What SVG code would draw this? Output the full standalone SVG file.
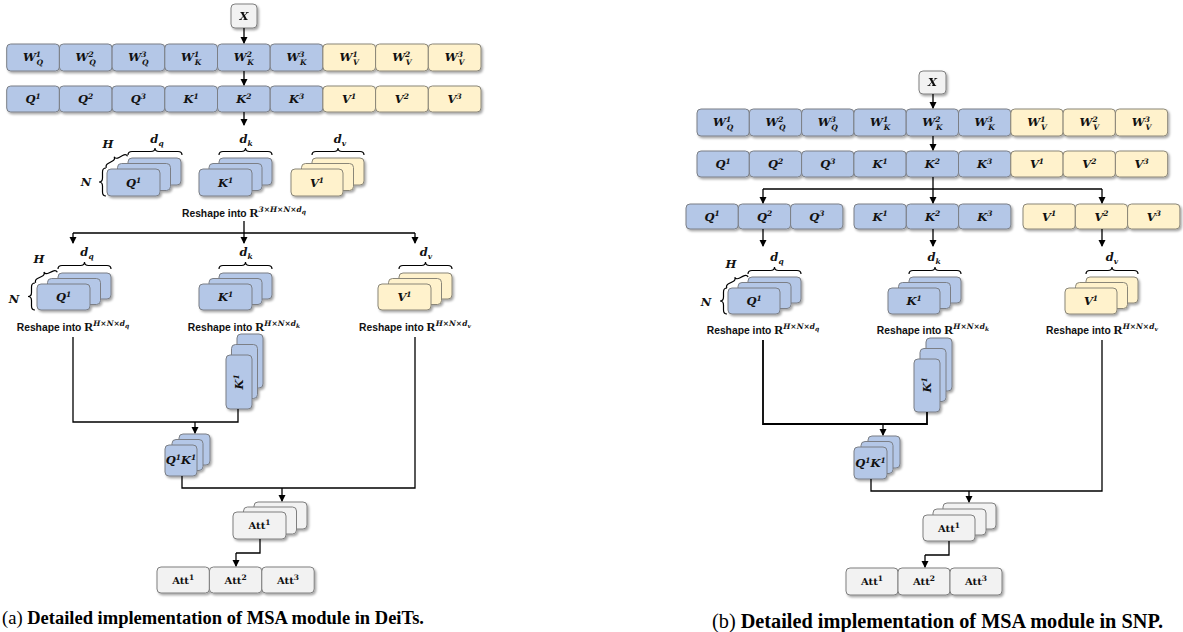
<svg xmlns="http://www.w3.org/2000/svg" width="1183" height="632" viewBox="0 0 1183 632">
<style>
.b{fill:#b4c7e7;stroke:#7b7f86;stroke-width:1}
.y{fill:#fff2cc;stroke:#8a8678;stroke-width:1}
.g{fill:#f2f2f2;stroke:#7f7f7f;stroke-width:1}
.m{font-family:"DejaVu Serif","Liberation Serif",serif;font-weight:bold;font-style:italic;font-size:11.5px;text-anchor:middle;fill:#111}
.a{font-family:"DejaVu Serif","Liberation Serif",serif;font-weight:bold;font-size:10px;text-anchor:middle;fill:#111}
.s{font-size:7.5px}
.r{font-family:"Liberation Sans",Arial,sans-serif;font-weight:bold;font-size:10.3px;text-anchor:middle;fill:#111}
.rr{font-family:"Liberation Serif",serif;font-weight:bold;font-size:12.5px}
.rs{font-family:"DejaVu Serif",serif;font-style:italic;font-weight:bold;font-size:7.5px}
.rs2{font-family:"DejaVu Serif",serif;font-style:italic;font-weight:bold;font-size:6px}
.ln{fill:none;stroke:#000;stroke-width:1.3}
.ar{fill:none;stroke:#000;stroke-width:1.3;marker-end:url(#ah)}
.br{fill:none;stroke:#000;stroke-width:1.2}
.cap{font-family:"Liberation Serif","Times New Roman",serif;fill:#000}
</style>
<defs>
<marker id="ah" markerUnits="userSpaceOnUse" markerWidth="8" markerHeight="8" refX="6" refY="3.5" orient="auto">
<path d="M0,0 L7,3.5 L0,7 z" fill="#000"/>
</marker>
<filter id="sh" x="-20%" y="-20%" width="150%" height="160%">
<feDropShadow dx="1.5" dy="1.8" stdDeviation="1" flood-color="#000" flood-opacity="0.35"/>
</filter>
</defs>

<!-- ================= (a) LEFT ================= -->
<g id="a-x" filter="url(#sh)"><rect class="g" x="231" y="4" width="26" height="24" rx="4"/><text class="m" x="244" y="20">X</text></g>

<g id="a-wrow" filter="url(#sh)">
<rect class="b" x="6.7" y="44" width="52.7" height="27" rx="4"/>
<rect class="b" x="59.4" y="44" width="52.7" height="27" rx="4"/>
<rect class="b" x="112.1" y="44" width="52.7" height="27" rx="4"/>
<rect class="b" x="164.8" y="44" width="52.7" height="27" rx="4"/>
<rect class="b" x="217.5" y="44" width="52.7" height="27" rx="4"/>
<rect class="b" x="270.2" y="44" width="52.7" height="27" rx="4"/>
<rect class="y" x="322.9" y="44" width="52.7" height="27" rx="4"/>
<rect class="y" x="375.6" y="44" width="52.7" height="27" rx="4"/>
<rect class="y" x="428.3" y="44" width="52.7" height="27" rx="4"/>
</g>
<g id="a-wlabels">
<text class="m" x="33" y="61">W<tspan class="s" dy="-4.5">1</tspan><tspan class="s" dx="-4.5" dy="8">Q</tspan></text>
<text class="m" x="85.7" y="61">W<tspan class="s" dy="-4.5">2</tspan><tspan class="s" dx="-4.5" dy="8">Q</tspan></text>
<text class="m" x="138.4" y="61">W<tspan class="s" dy="-4.5">3</tspan><tspan class="s" dx="-4.5" dy="8">Q</tspan></text>
<text class="m" x="191.1" y="61">W<tspan class="s" dy="-4.5">1</tspan><tspan class="s" dx="-4.5" dy="8">K</tspan></text>
<text class="m" x="243.8" y="61">W<tspan class="s" dy="-4.5">2</tspan><tspan class="s" dx="-4.5" dy="8">K</tspan></text>
<text class="m" x="296.5" y="61">W<tspan class="s" dy="-4.5">3</tspan><tspan class="s" dx="-4.5" dy="8">K</tspan></text>
<text class="m" x="349.2" y="61">W<tspan class="s" dy="-4.5">1</tspan><tspan class="s" dx="-4.5" dy="8">V</tspan></text>
<text class="m" x="401.9" y="61">W<tspan class="s" dy="-4.5">2</tspan><tspan class="s" dx="-4.5" dy="8">V</tspan></text>
<text class="m" x="454.6" y="61">W<tspan class="s" dy="-4.5">3</tspan><tspan class="s" dx="-4.5" dy="8">V</tspan></text>
</g>

<g id="a-qrow" filter="url(#sh)">
<rect class="b" x="6.7" y="86" width="52.7" height="26" rx="4"/>
<rect class="b" x="59.4" y="86" width="52.7" height="26" rx="4"/>
<rect class="b" x="112.1" y="86" width="52.7" height="26" rx="4"/>
<rect class="b" x="164.8" y="86" width="52.7" height="26" rx="4"/>
<rect class="b" x="217.5" y="86" width="52.7" height="26" rx="4"/>
<rect class="b" x="270.2" y="86" width="52.7" height="26" rx="4"/>
<rect class="y" x="322.9" y="86" width="52.7" height="26" rx="4"/>
<rect class="y" x="375.6" y="86" width="52.7" height="26" rx="4"/>
<rect class="y" x="428.3" y="86" width="52.7" height="26" rx="4"/>
</g>
<g id="a-qlabels">
<text class="m" x="33" y="103">Q<tspan class="s" dy="-4.5">1</tspan></text>
<text class="m" x="85.7" y="103">Q<tspan class="s" dy="-4.5">2</tspan></text>
<text class="m" x="138.4" y="103">Q<tspan class="s" dy="-4.5">3</tspan></text>
<text class="m" x="191.1" y="103">K<tspan class="s" dy="-4.5">1</tspan></text>
<text class="m" x="243.8" y="103">K<tspan class="s" dy="-4.5">2</tspan></text>
<text class="m" x="296.5" y="103">K<tspan class="s" dy="-4.5">3</tspan></text>
<text class="m" x="349.2" y="103">V<tspan class="s" dy="-4.5">1</tspan></text>
<text class="m" x="401.9" y="103">V<tspan class="s" dy="-4.5">2</tspan></text>
<text class="m" x="454.6" y="103">V<tspan class="s" dy="-4.5">3</tspan></text>
</g>

<!-- level 1 stacks -->
<g id="a-q3d">
<g filter="url(#sh)">
<rect class="b" x="128" y="158" width="53" height="27" rx="4"/>
<rect class="b" x="117.5" y="163.5" width="53" height="27" rx="4"/>
<rect class="b" x="107" y="169" width="53" height="27" rx="4"/>
</g>
<text class="m" x="133.5" y="187">Q<tspan class="s" dy="-4.5">1</tspan></text>
<path class="br" d="M128,155 Q128,151.5 132,151.5 L151,151.5 Q155,151.5 155,148 Q155,151.5 159,151.5 L178,151.5 Q182,151.5 182,155"/>
<text class="m" x="157" y="143">d<tspan class="s" dy="2.5">q</tspan></text>
<path class="br" transform="translate(117,162) rotate(-28.6)" d="M-12,0 Q-12,-3 -8,-3 L-4,-3 Q0,-3 0,-6 Q0,-3 4,-3 L8,-3 Q12,-3 12,0"/>
<text class="m" x="108" y="148">H</text>
<path class="br" d="M106,168 Q102.5,168 102.5,172 L102.5,178 Q102.5,182 99,182 Q102.5,182 102.5,186 L102.5,192 Q102.5,196 106,196"/>
<text class="m" x="86" y="186">N</text>
</g>
<g id="a-k3d">
<g filter="url(#sh)">
<rect class="b" x="219" y="158" width="53" height="27" rx="4"/>
<rect class="b" x="209" y="163.5" width="53" height="27" rx="4"/>
<rect class="b" x="199" y="169" width="53" height="27" rx="4"/>
</g>
<text class="m" x="225.5" y="187">K<tspan class="s" dy="-4.5">1</tspan></text>
<path class="br" d="M219,155 Q219,151.5 223,151.5 L241.5,151.5 Q245.5,151.5 245.5,148 Q245.5,151.5 249.5,151.5 L268,151.5 Q272,151.5 272,155"/>
<text class="m" x="246" y="143">d<tspan class="s" dy="2.5">k</tspan></text>
</g>
<g id="a-v3d">
<g filter="url(#sh)">
<rect class="y" x="312" y="158" width="52" height="27" rx="4"/>
<rect class="y" x="301.5" y="163.5" width="52" height="27" rx="4"/>
<rect class="y" x="291" y="169" width="52" height="27" rx="4"/>
</g>
<text class="m" x="317" y="187">V<tspan class="s" dy="-4.5">1</tspan></text>
<path class="br" d="M312,155 Q312,151.5 316,151.5 L334,151.5 Q338,151.5 338,148 Q338,151.5 342,151.5 L360,151.5 Q364,151.5 364,155"/>
<text class="m" x="340" y="143">d<tspan class="s" dy="2.5">v</tspan></text>
</g>
<text id="a-reshape0" class="r" x="244" y="217">Reshape into <tspan class="rr">R</tspan><tspan class="rs" dy="-5">3×H×N×d</tspan><tspan class="rs2" dy="1.5">q</tspan></text>

<!-- level 2 stacks -->
<g id="a-q3d2">
<g filter="url(#sh)">
<rect class="b" x="58" y="273" width="53" height="26" rx="4"/>
<rect class="b" x="47.5" y="278.5" width="53" height="26" rx="4"/>
<rect class="b" x="37" y="284" width="53" height="26" rx="4"/>
</g>
<text class="m" x="63.5" y="301">Q<tspan class="s" dy="-4.5">1</tspan></text>
<path class="br" d="M58,269 Q58,265.5 62,265.5 L80.5,265.5 Q84.5,265.5 84.5,262 Q84.5,265.5 88.5,265.5 L107,265.5 Q111,265.5 111,269"/>
<text class="m" x="87" y="256">d<tspan class="s" dy="2.5">q</tspan></text>
<path class="br" transform="translate(46.5,277.5) rotate(-25.6)" d="M-12,0 Q-12,-3 -8,-3 L-4,-3 Q0,-3 0,-6 Q0,-3 4,-3 L8,-3 Q12,-3 12,0"/>
<text class="m" x="39" y="263">H</text>
<path class="br" d="M35,283 Q31.5,283 31.5,287 L31.5,292.5 Q31.5,296.5 28,296.5 Q31.5,296.5 31.5,300.5 L31.5,306 Q31.5,310 35,310"/>
<text class="m" x="14" y="303">N</text>
</g>
<g id="a-k3d2">
<g filter="url(#sh)">
<rect class="b" x="219" y="273" width="53" height="26" rx="4"/>
<rect class="b" x="209" y="278.5" width="53" height="26" rx="4"/>
<rect class="b" x="199" y="284" width="53" height="26" rx="4"/>
</g>
<text class="m" x="225.5" y="301">K<tspan class="s" dy="-4.5">1</tspan></text>
<path class="br" d="M219,269 Q219,265.5 223,265.5 L241.5,265.5 Q245.5,265.5 245.5,262 Q245.5,265.5 249.5,265.5 L268,265.5 Q272,265.5 272,269"/>
<text class="m" x="246" y="256">d<tspan class="s" dy="2.5">k</tspan></text>
</g>
<g id="a-v3d2">
<g filter="url(#sh)">
<rect class="y" x="399" y="273" width="53" height="26" rx="4"/>
<rect class="y" x="388.5" y="278.5" width="53" height="26" rx="4"/>
<rect class="y" x="378" y="284" width="53" height="26" rx="4"/>
</g>
<text class="m" x="404.5" y="301">V<tspan class="s" dy="-4.5">1</tspan></text>
<path class="br" d="M399,269 Q399,265.5 403,265.5 L421.5,265.5 Q425.5,265.5 425.5,262 Q425.5,265.5 429.5,265.5 L448,265.5 Q452,265.5 452,269"/>
<text class="m" x="426" y="256">d<tspan class="s" dy="2.5">v</tspan></text>
</g>
<text id="a-reshape-q" class="r" x="73" y="331">Reshape into <tspan class="rr">R</tspan><tspan class="rs" dy="-5">H×N×d</tspan><tspan class="rs2" dy="1.5">q</tspan></text>
<text id="a-reshape-k" class="r" x="244" y="331">Reshape into <tspan class="rr">R</tspan><tspan class="rs" dy="-5">H×N×d</tspan><tspan class="rs2" dy="1.5">k</tspan></text>
<text id="a-reshape-v" class="r" x="415" y="331">Reshape into <tspan class="rr">R</tspan><tspan class="rs" dy="-5">H×N×d</tspan><tspan class="rs2" dy="1.5">v</tspan></text>

<g id="a-kt">
<g filter="url(#sh)">
<rect class="b" x="237" y="334" width="26" height="54" rx="4"/>
<rect class="b" x="231.5" y="344.5" width="26" height="54" rx="4"/>
<rect class="b" x="226" y="355" width="26" height="54" rx="4"/>
</g>
<text class="m" transform="translate(243,382) rotate(-90)" x="0" y="0">K<tspan class="s" dy="-4.5">1</tspan></text>
</g>
<g id="a-qk">
<g filter="url(#sh)">
<rect class="b" x="179" y="434" width="31" height="31" rx="4"/>
<rect class="b" x="172" y="439.5" width="31" height="31" rx="4"/>
<rect class="b" x="165" y="445" width="32" height="31" rx="4"/>
</g>
<text class="m" x="181" y="464">Q<tspan class="s" dy="-4.5">1</tspan><tspan dy="4.5">K</tspan><tspan class="s" dy="-4.5">1</tspan></text>
</g>
<g id="a-att">
<g filter="url(#sh)">
<rect class="g" x="254" y="502" width="53" height="27" rx="4"/>
<rect class="g" x="243.5" y="507" width="53" height="27" rx="4"/>
<rect class="g" x="233" y="512" width="53" height="27" rx="4"/>
</g>
<text class="a" x="259.5" y="529">Att<tspan class="s" dy="-4">1</tspan></text>
</g>
<g id="a-attrow">
<g filter="url(#sh)">
<rect class="g" x="157" y="567" width="52.4" height="26" rx="4"/>
<rect class="g" x="209.4" y="567" width="52.4" height="26" rx="4"/>
<rect class="g" x="261.8" y="567" width="52.4" height="26" rx="4"/>
</g>
<text class="a" x="183.2" y="584">Att<tspan class="s" dy="-4">1</tspan></text>
<text class="a" x="235.6" y="584">Att<tspan class="s" dy="-4">2</tspan></text>
<text class="a" x="288" y="584">Att<tspan class="s" dy="-4">3</tspan></text>
</g>

<g id="a-connectors">
<path class="ar" d="M244,28 L244,43"/>
<path class="ar" d="M244,71 L244,85"/>
<path class="ar" d="M244,112 L244,125"/>
<path class="ln" d="M244,221 L244,233 M73,233 L415,233"/>
<path class="ar" d="M73,233 L73,243"/>
<path class="ar" d="M244,233 L244,243"/>
<path class="ar" d="M415,233 L415,243"/>
<path class="ln" d="M73,337 L73,422 L238,422 L238,409"/>
<path class="ar" d="M195,422 L195,433"/>
<path class="ln" d="M182,476 L182,488 L415,488 L415,337"/>
<path class="ar" d="M282,488 L282,501"/>
<path class="ln" d="M260,539 L260,553 L236,553"/>
<path class="ar" d="M236,553 L236,566"/>
</g>

<text id="a-caption" class="cap" x="2" y="624" font-size="18.5" textLength="422" lengthAdjust="spacingAndGlyphs">(a) <tspan font-weight="bold">Detailed implementation of MSA module in DeiTs.</tspan></text>

<!-- ================= (b) RIGHT ================= -->
<g id="b-x" filter="url(#sh)"><rect class="g" x="919" y="71" width="27" height="23" rx="4"/><text class="m" x="932.5" y="86">X</text></g>

<g id="b-wrow" filter="url(#sh)">
<rect class="b" x="697" y="109" width="52.3" height="27" rx="4"/>
<rect class="b" x="749.3" y="109" width="52.3" height="27" rx="4"/>
<rect class="b" x="801.6" y="109" width="52.3" height="27" rx="4"/>
<rect class="b" x="853.9" y="109" width="52.3" height="27" rx="4"/>
<rect class="b" x="906.2" y="109" width="52.3" height="27" rx="4"/>
<rect class="b" x="958.5" y="109" width="52.3" height="27" rx="4"/>
<rect class="y" x="1010.8" y="109" width="52.3" height="27" rx="4"/>
<rect class="y" x="1063.1" y="109" width="52.3" height="27" rx="4"/>
<rect class="y" x="1115.4" y="109" width="52.3" height="27" rx="4"/>
</g>
<g id="b-wlabels">
<text class="m" x="723.2" y="126">W<tspan class="s" dy="-4.5">1</tspan><tspan class="s" dx="-4.5" dy="8">Q</tspan></text>
<text class="m" x="775.5" y="126">W<tspan class="s" dy="-4.5">2</tspan><tspan class="s" dx="-4.5" dy="8">Q</tspan></text>
<text class="m" x="827.8" y="126">W<tspan class="s" dy="-4.5">3</tspan><tspan class="s" dx="-4.5" dy="8">Q</tspan></text>
<text class="m" x="880.1" y="126">W<tspan class="s" dy="-4.5">1</tspan><tspan class="s" dx="-4.5" dy="8">K</tspan></text>
<text class="m" x="932.4" y="126">W<tspan class="s" dy="-4.5">2</tspan><tspan class="s" dx="-4.5" dy="8">K</tspan></text>
<text class="m" x="984.7" y="126">W<tspan class="s" dy="-4.5">3</tspan><tspan class="s" dx="-4.5" dy="8">K</tspan></text>
<text class="m" x="1037" y="126">W<tspan class="s" dy="-4.5">1</tspan><tspan class="s" dx="-4.5" dy="8">V</tspan></text>
<text class="m" x="1089.3" y="126">W<tspan class="s" dy="-4.5">2</tspan><tspan class="s" dx="-4.5" dy="8">V</tspan></text>
<text class="m" x="1141.6" y="126">W<tspan class="s" dy="-4.5">3</tspan><tspan class="s" dx="-4.5" dy="8">V</tspan></text>
</g>

<g id="b-qrow" filter="url(#sh)">
<rect class="b" x="697" y="151" width="52.3" height="26" rx="4"/>
<rect class="b" x="749.3" y="151" width="52.3" height="26" rx="4"/>
<rect class="b" x="801.6" y="151" width="52.3" height="26" rx="4"/>
<rect class="b" x="853.9" y="151" width="52.3" height="26" rx="4"/>
<rect class="b" x="906.2" y="151" width="52.3" height="26" rx="4"/>
<rect class="b" x="958.5" y="151" width="52.3" height="26" rx="4"/>
<rect class="y" x="1010.8" y="151" width="52.3" height="26" rx="4"/>
<rect class="y" x="1063.1" y="151" width="52.3" height="26" rx="4"/>
<rect class="y" x="1115.4" y="151" width="52.3" height="26" rx="4"/>
</g>
<g id="b-qlabels">
<text class="m" x="723.2" y="168">Q<tspan class="s" dy="-4.5">1</tspan></text>
<text class="m" x="775.5" y="168">Q<tspan class="s" dy="-4.5">2</tspan></text>
<text class="m" x="827.8" y="168">Q<tspan class="s" dy="-4.5">3</tspan></text>
<text class="m" x="880.1" y="168">K<tspan class="s" dy="-4.5">1</tspan></text>
<text class="m" x="932.4" y="168">K<tspan class="s" dy="-4.5">2</tspan></text>
<text class="m" x="984.7" y="168">K<tspan class="s" dy="-4.5">3</tspan></text>
<text class="m" x="1037" y="168">V<tspan class="s" dy="-4.5">1</tspan></text>
<text class="m" x="1089.3" y="168">V<tspan class="s" dy="-4.5">2</tspan></text>
<text class="m" x="1141.6" y="168">V<tspan class="s" dy="-4.5">3</tspan></text>
</g>

<g id="b-qsplit">
<g filter="url(#sh)">
<rect class="b" x="686" y="204" width="52.3" height="25" rx="4"/>
<rect class="b" x="738.3" y="204" width="52.3" height="25" rx="4"/>
<rect class="b" x="790.6" y="204" width="52.3" height="25" rx="4"/>
</g>
<text class="m" x="712.2" y="220.5">Q<tspan class="s" dy="-4.5">1</tspan></text>
<text class="m" x="764.5" y="220.5">Q<tspan class="s" dy="-4.5">2</tspan></text>
<text class="m" x="816.8" y="220.5">Q<tspan class="s" dy="-4.5">3</tspan></text>
</g>
<g id="b-ksplit">
<g filter="url(#sh)">
<rect class="b" x="854" y="204" width="52.3" height="25" rx="4"/>
<rect class="b" x="906.3" y="204" width="52.3" height="25" rx="4"/>
<rect class="b" x="958.6" y="204" width="52.3" height="25" rx="4"/>
</g>
<text class="m" x="880.2" y="220.5">K<tspan class="s" dy="-4.5">1</tspan></text>
<text class="m" x="932.5" y="220.5">K<tspan class="s" dy="-4.5">2</tspan></text>
<text class="m" x="984.8" y="220.5">K<tspan class="s" dy="-4.5">3</tspan></text>
</g>
<g id="b-vsplit">
<g filter="url(#sh)">
<rect class="y" x="1023" y="204" width="52.3" height="25" rx="4"/>
<rect class="y" x="1075.3" y="204" width="52.3" height="25" rx="4"/>
<rect class="y" x="1127.6" y="204" width="52.3" height="25" rx="4"/>
</g>
<text class="m" x="1049.2" y="220.5">V<tspan class="s" dy="-4.5">1</tspan></text>
<text class="m" x="1101.5" y="220.5">V<tspan class="s" dy="-4.5">2</tspan></text>
<text class="m" x="1153.8" y="220.5">V<tspan class="s" dy="-4.5">3</tspan></text>
</g>

<g id="b-q3d">
<g filter="url(#sh)">
<rect class="b" x="748" y="277" width="53" height="26" rx="4"/>
<rect class="b" x="738" y="282.5" width="53" height="26" rx="4"/>
<rect class="b" x="728" y="288" width="52" height="26" rx="4"/>
</g>
<text class="m" x="754" y="305">Q<tspan class="s" dy="-4.5">1</tspan></text>
<path class="br" d="M748,274 Q748,270.5 752,270.5 L770.5,270.5 Q774.5,270.5 774.5,267 Q774.5,270.5 778.5,270.5 L797,270.5 Q801,270.5 801,274"/>
<text class="m" x="777" y="261">d<tspan class="s" dy="2.5">q</tspan></text>
<path class="br" transform="translate(737.5,282.5) rotate(-27.6)" d="M-12,0 Q-12,-3 -8,-3 L-4,-3 Q0,-3 0,-6 Q0,-3 4,-3 L8,-3 Q12,-3 12,0"/>
<text class="m" x="731" y="268">H</text>
<path class="br" d="M727,288 Q723.5,288 723.5,292 L723.5,297 Q723.5,301 720,301 Q723.5,301 723.5,305 L723.5,310 Q723.5,314 727,314"/>
<text class="m" x="706" y="306">N</text>
</g>
<g id="b-k3d">
<g filter="url(#sh)">
<rect class="b" x="909" y="277" width="52" height="26" rx="4"/>
<rect class="b" x="898.5" y="282.5" width="52" height="26" rx="4"/>
<rect class="b" x="888" y="288" width="52" height="26" rx="4"/>
</g>
<text class="m" x="914" y="305">K<tspan class="s" dy="-4.5">1</tspan></text>
<path class="br" d="M909,274 Q909,270.5 913,270.5 L931,270.5 Q935,270.5 935,267 Q935,270.5 939,270.5 L957,270.5 Q961,270.5 961,274"/>
<text class="m" x="934" y="261">d<tspan class="s" dy="2.5">k</tspan></text>
</g>
<g id="b-v3d">
<g filter="url(#sh)">
<rect class="y" x="1086" y="277" width="52" height="26" rx="4"/>
<rect class="y" x="1075.5" y="282.5" width="52" height="26" rx="4"/>
<rect class="y" x="1065" y="288" width="52" height="26" rx="4"/>
</g>
<text class="m" x="1091" y="305">V<tspan class="s" dy="-4.5">1</tspan></text>
<path class="br" d="M1086,274 Q1086,270.5 1090,270.5 L1108,270.5 Q1112,270.5 1112,267 Q1112,270.5 1116,270.5 L1134,270.5 Q1138,270.5 1138,274"/>
<text class="m" x="1112" y="261">d<tspan class="s" dy="2.5">v</tspan></text>
</g>
<text id="b-reshape-q" class="r" x="763" y="334">Reshape into <tspan class="rr">R</tspan><tspan class="rs" dy="-5">H×N×d</tspan><tspan class="rs2" dy="1.5">q</tspan></text>
<text id="b-reshape-k" class="r" x="933" y="334">Reshape into <tspan class="rr">R</tspan><tspan class="rs" dy="-5">H×N×d</tspan><tspan class="rs2" dy="1.5">k</tspan></text>
<text id="b-reshape-v" class="r" x="1102" y="334">Reshape into <tspan class="rr">R</tspan><tspan class="rs" dy="-5">H×N×d</tspan><tspan class="rs2" dy="1.5">v</tspan></text>

<g id="b-kt">
<g filter="url(#sh)">
<rect class="b" x="926" y="338" width="26" height="53" rx="4"/>
<rect class="b" x="920" y="348.5" width="26" height="53" rx="4"/>
<rect class="b" x="914" y="359" width="26" height="53" rx="4"/>
</g>
<text class="m" transform="translate(931,385) rotate(-90)" x="0" y="0">K<tspan class="s" dy="-4.5">1</tspan></text>
</g>
<g id="b-qk">
<g filter="url(#sh)">
<rect class="b" x="868" y="436" width="32" height="32" rx="4"/>
<rect class="b" x="861" y="441.5" width="32" height="32" rx="4"/>
<rect class="b" x="854" y="447" width="33" height="32" rx="4"/>
</g>
<text class="m" x="870.5" y="467">Q<tspan class="s" dy="-4.5">1</tspan><tspan dy="4.5">K</tspan><tspan class="s" dy="-4.5">1</tspan></text>
</g>
<g id="b-att">
<g filter="url(#sh)">
<rect class="g" x="943" y="503" width="53" height="26" rx="4"/>
<rect class="g" x="933" y="509" width="53" height="26" rx="4"/>
<rect class="g" x="923" y="515" width="52" height="26" rx="4"/>
</g>
<text class="a" x="949" y="532">Att<tspan class="s" dy="-4">1</tspan></text>
</g>
<g id="b-attrow">
<g filter="url(#sh)">
<rect class="g" x="846" y="568" width="52" height="27" rx="4"/>
<rect class="g" x="898" y="568" width="52" height="27" rx="4"/>
<rect class="g" x="950" y="568" width="52" height="27" rx="4"/>
</g>
<text class="a" x="872" y="585">Att<tspan class="s" dy="-4">1</tspan></text>
<text class="a" x="924" y="585">Att<tspan class="s" dy="-4">2</tspan></text>
<text class="a" x="976" y="585">Att<tspan class="s" dy="-4">3</tspan></text>
</g>

<g id="b-connectors">
<path class="ar" d="M933,94 L933,108"/>
<path class="ar" d="M933,136 L933,150"/>
<path class="ln" d="M933,177 L933,189 M763,189 L1102,189"/>
<path class="ar" d="M763,189 L763,203"/>
<path class="ar" d="M933,189 L933,203"/>
<path class="ar" d="M1102,189 L1102,203"/>
<path class="ar" d="M763,229 L763,246"/>
<path class="ar" d="M933,229 L933,246"/>
<path class="ar" d="M1102,229 L1102,246"/>
<path class="ln" style="stroke-width:1.8" d="M763,340 L763,424 L927,424 L927,412"/>
<path class="ar" d="M883,424 L883,435"/>
<path class="ln" d="M871,479 L871,491 L1102,491 L1102,340"/>
<path class="ar" d="M969,491 L969,502"/>
<path class="ln" d="M949,541 L949,555 L925,555"/>
<path class="ar" d="M925,555 L925,567"/>
</g>

<text id="b-caption" class="cap" x="712" y="628" font-size="20.3" textLength="451" lengthAdjust="spacingAndGlyphs">(b) <tspan font-weight="bold">Detailed implementation of MSA module in SNP.</tspan></text>
</svg>
